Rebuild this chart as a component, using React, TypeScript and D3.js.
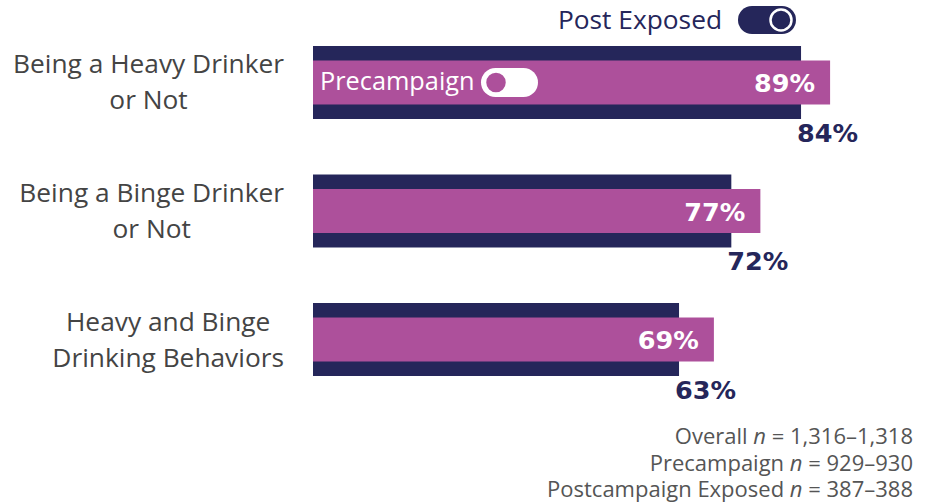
import React, { useEffect, useRef } from "react";
import * as d3 from "d3";

const categories: string[][] = [
  ["Being a Heavy Drinker", "or Not"],
  ["Being a Binge Drinker", "or Not"],
  ["Heavy and Binge", "Drinking Behaviors"],
];
const postExposed = [84, 72, 63];
const precampaign = [89, 77, 69];
const seriesNames = ["Post Exposed", "Precampaign"];
const footnotes = [
  ["Overall ", "n", " = 1,316\u20131,318"],
  ["Precampaign ", "n", " = 929\u2013930"],
  ["Postcampaign Exposed ", "n", " = 387\u2013388"],
];

const NAVY = "#25265A";
const MAGENTA = "#AD509B";
const GREY = "#444444";
const LABEL_FONT = "'Open Sans', 'Noto Sans', sans-serif";
const VALUE_FONT = "'DejaVu Sans', sans-serif";

export default function App() {
  const ref = useRef<SVGSVGElement | null>(null);

  useEffect(() => {
    const svg = d3.select(ref.current);
    svg.selectAll("*").remove();

    const idx = categories.map((_, i) => String(i));
    const x = d3.scaleLinear().domain([0, 100]).range([313, 894]);
    const y = d3.scaleBand<string>().domain(idx).range([46, 376]).paddingInner(0.432).paddingOuter(0);
    const bw = y.bandwidth();
    const inset = 14.5;

    const rows = svg.selectAll("g.row").data(idx).join("g").attr("class", "row");

    rows
      .append("rect")
      .attr("x", x(0))
      .attr("y", (d) => y(d)!)
      .attr("width", (d) => x(postExposed[+d]) - x(0))
      .attr("height", bw)
      .attr("fill", NAVY);

    rows
      .append("rect")
      .attr("x", x(0))
      .attr("y", (d) => y(d)! + inset)
      .attr("width", (d) => x(precampaign[+d]) - x(0))
      .attr("height", bw - 2 * inset)
      .attr("fill", MAGENTA);

    rows
      .append("text")
      .attr("x", (d) => x(precampaign[+d]) - 15)
      .attr("y", (d) => y(d)! + bw / 2 + 9.5)
      .attr("text-anchor", "end")
      .attr("font-family", VALUE_FONT)
      .attr("font-weight", 700)
      .attr("font-size", 25.5)
      .attr("fill", "#ffffff")
      .text((d) => `${precampaign[+d]}%`);

    rows
      .append("text")
      .attr("x", (d) => x(postExposed[+d]) - 4)
      .attr("y", (d) => y(d)! + bw + 23)
      .attr("text-anchor", "start")
      .attr("font-family", VALUE_FONT)
      .attr("font-weight", 700)
      .attr("font-size", 25.5)
      .attr("fill", NAVY)
      .text((d) => `${postExposed[+d]}%`);

    rows.each(function (d) {
      const g = d3.select(this);
      const lines = categories[+d];
      const cy = y(d)! + bw / 2;
      const texts = lines.map((line, li) =>
        g
          .append("text")
          .attr("y", cy + (li === 0 ? -9 : 27))
          .attr("text-anchor", "middle")
          .attr("font-family", LABEL_FONT)
          .attr("font-size", 26.3)
          .attr("fill", GREY)
          .text(line)
      );
      const maxW = d3.max(texts, (t) => (t.node() as SVGTextElement).getComputedTextLength()) || 0;
      texts.forEach((t) => t.attr("x", 284 - maxW / 2));
    });

    svg
      .append("text")
      .attr("x", 722)
      .attr("y", 29)
      .attr("text-anchor", "end")
      .attr("font-family", LABEL_FONT)
      .attr("font-size", 26.3)
      .attr("fill", NAVY)
      .text(seriesNames[0]);
    svg.append("rect").attr("x", 738).attr("y", 6).attr("width", 58).attr("height", 28).attr("rx", 14).attr("fill", NAVY);
    svg
      .append("circle")
      .attr("cx", 781)
      .attr("cy", 20)
      .attr("r", 10.5)
      .attr("fill", NAVY)
      .attr("stroke", "#ffffff")
      .attr("stroke-width", 2.5);

    const y0 = y("0")! + bw / 2;
    svg
      .append("text")
      .attr("x", 320)
      .attr("y", y0 + 7.5)
      .attr("font-family", LABEL_FONT)
      .attr("font-size", 25.3)
      .attr("fill", "#ffffff")
      .text(seriesNames[1]);
    svg
      .append("rect")
      .attr("x", 481)
      .attr("y", y0 - 14.5)
      .attr("width", 57)
      .attr("height", 29)
      .attr("rx", 14.5)
      .attr("fill", "#ffffff");
    svg
      .append("circle")
      .attr("cx", 496)
      .attr("cy", y0)
      .attr("r", 11)
      .attr("fill", MAGENTA)
      .attr("stroke", "#ffffff")
      .attr("stroke-width", 2.5);

    footnotes.forEach((parts, i) => {
      const t = svg
        .append("text")
        .attr("x", 913)
        .attr("y", 444 + i * 26.5)
        .attr("text-anchor", "end")
        .attr("font-family", LABEL_FONT)
        .attr("font-size", 22)
        .attr("fill", "#555555");
      parts.forEach((p, j) => {
        t.append("tspan")
          .attr("font-style", j === 1 ? "italic" : "normal")
          .text(p);
      });
    });
  }, []);

  return (
    <svg
      ref={ref}
      width={927}
      height={502}
      style={{ position: "absolute", left: 0, top: 0, background: "#ffffff" }}
    />
  );
}
